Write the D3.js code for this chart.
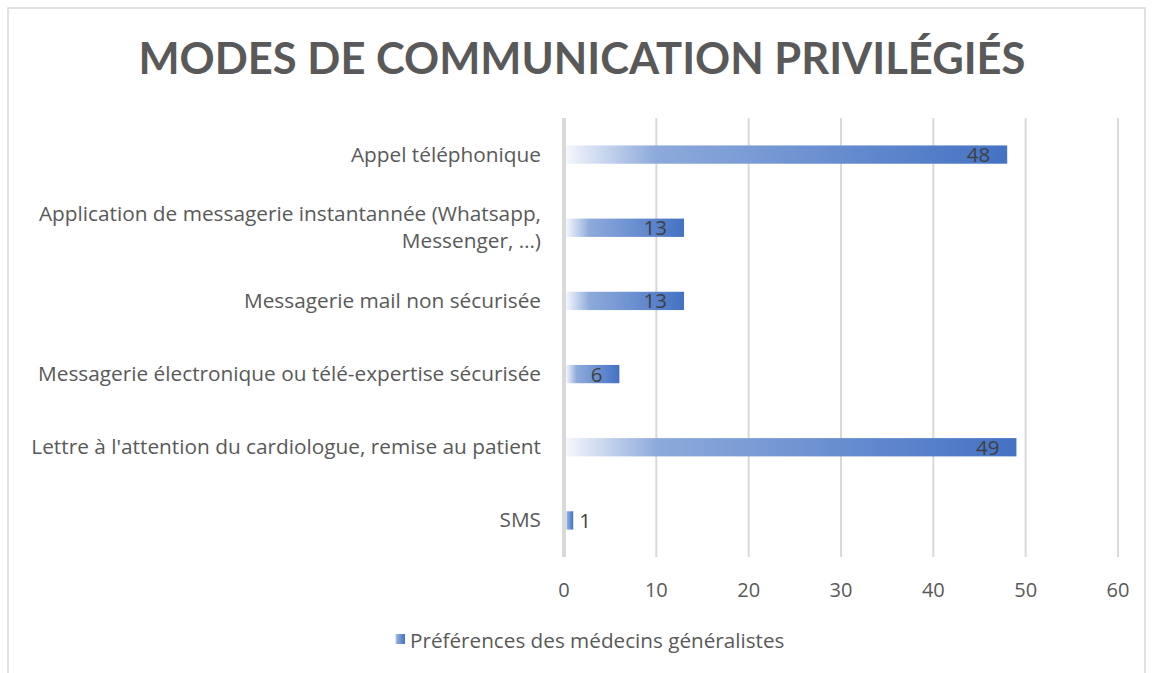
<!DOCTYPE html>
<html>
<head>
<meta charset="utf-8">
<script src="https://cdn.jsdelivr.net/npm/d3@7"></script>
<style>
  body { margin: 0; background: #fff; }
  text { font-family: "Open Sans", Lato, sans-serif; }
</style>
</head>
<body>
<div id="chart"></div>
<script>
// data
const categories = [
  'Appel téléphonique',
  'Application de messagerie instantannée (Whatsapp, Messenger, …)',
  'Messagerie mail non sécurisée',
  'Messagerie électronique ou télé-expertise sécurisée',
  "Lettre à l'attention du cardiologue, remise au patient",
  'SMS'
]
const categoryLines = [
  ['Appel téléphonique'],
  ['Application de messagerie instantannée (Whatsapp,', 'Messenger, …)'],
  ['Messagerie mail non sécurisée'],
  ['Messagerie électronique ou télé-expertise sécurisée'],
  ["Lettre à l'attention du cardiologue, remise au patient"],
  ['SMS']
]
const values = [48, 13, 13, 6, 49, 1]
const xTicks = [0, 10, 20, 30, 40, 50, 60]
const seriesName = 'Préférences des médecins généralistes'
const title = 'MODES DE COMMUNICATION PRIVILÉGIÉS'

const W = 1152
const H = 673
const margin = { top: 118, right: 34, bottom: 116, left: 564 }

const svg = d3.select('#chart')
  .append('svg')
  .attr('width', W)
  .attr('height', H)

// gradient fill like the office preset
const defs = svg.append('defs')
const grad = defs.append('linearGradient')
  .attr('id', 'barGrad')
  .attr('x1', '0%').attr('x2', '100%')
  .attr('y1', '0%').attr('y2', '0%')
grad.append('stop').attr('offset', '0%').attr('stop-color', '#f4f7fc')
grad.append('stop').attr('offset', '20%').attr('stop-color', '#8eaadb')
grad.append('stop').attr('offset', '100%').attr('stop-color', '#4472c4')

// chart border
svg.append('rect')
  .attr('x', 8).attr('y', 8)
  .attr('width', 1137).attr('height', 680)
  .attr('fill', 'none')
  .attr('stroke', '#d9d9d9')
  .attr('stroke-width', 1.5)

svg.append('text')
  .attr('x', 582)
  .attr('y', 74)
  .attr('text-anchor', 'middle')
  .attr('fill', '#595959')
  .style('font-family', 'Lato, sans-serif')
  .style('font-size', '43.5px')
  .style('font-weight', 'bold')
  .text(title)

const x = d3.scaleLinear()
  .domain([0, 60])
  .range([margin.left, W - margin.right])

const y = d3.scaleBand()
  .domain(categories)
  .range([margin.top, H - margin.bottom])
  .paddingInner(0.75)
  .paddingOuter(0.375)

// gridlines
svg.append('g')
  .selectAll('line')
  .data(xTicks.slice(1))
  .enter().append('line')
  .attr('x1', d => x(d))
  .attr('x2', d => x(d))
  .attr('y1', margin.top)
  .attr('y2', H - margin.bottom)
  .attr('stroke', '#d9d9d9')
  .attr('stroke-width', 2)

// vertical category axis line
svg.append('line')
  .attr('x1', x(0)).attr('x2', x(0))
  .attr('y1', margin.top)
  .attr('y2', H - margin.bottom)
  .attr('stroke', '#d9d9d9')
  .attr('stroke-width', 4)

// bars
svg.append('g')
  .selectAll('rect')
  .data(values)
  .enter().append('rect')
  .attr('x', x(0) + 2)
  .attr('y', (d, i) => y(categories[i]))
  .attr('width', d => x(d) - x(0) - 2)
  .attr('height', y.bandwidth())
  .attr('fill', 'url(#barGrad)')

// data labels
svg.append('g')
  .selectAll('text')
  .data(values)
  .enter().append('text')
  .attr('x', d => x(d) > x(0) + 30 ? x(d) - 17 : x(d) + 6)
  .attr('y', (d, i) => y(categories[i]) + y.bandwidth() / 2 + 7.5)
  .attr('text-anchor', d => x(d) > x(0) + 30 ? 'end' : 'start')
  .attr('fill', '#404040')
  .style('font-size', '20.5px')
  .text(d => d)

// category labels
const catG = svg.append('g')
categoryLines.forEach(function (lines, i) {
  const cy = y(categories[i]) + y.bandwidth() / 2
  const t = catG.append('text')
    .attr('text-anchor', 'end')
    .attr('fill', '#595959')
    .style('font-size', '20.8px')
  lines.forEach(function (line, j) {
    t.append('tspan')
      .attr('x', 541)
      .attr('y', cy + 7 + (j - (lines.length - 1) / 2) * 27)
      .text(line)
  })
})

// x tick labels
svg.append('g')
  .selectAll('text')
  .data(xTicks)
  .enter().append('text')
  .attr('x', d => x(d))
  .attr('y', 597)
  .attr('text-anchor', 'middle')
  .attr('fill', '#595959')
  .style('font-size', '20px')
  .text(d => d)

// legend
svg.append('rect')
  .attr('x', 395).attr('y', 634)
  .attr('width', 10).attr('height', 10)
  .attr('fill', 'url(#barGrad)')
svg.append('text')
  .attr('x', 410)
  .attr('y', 648)
  .attr('fill', '#595959')
  .style('font-size', '20.7px')
  .text(seriesName)
</script>
</body>
</html>
